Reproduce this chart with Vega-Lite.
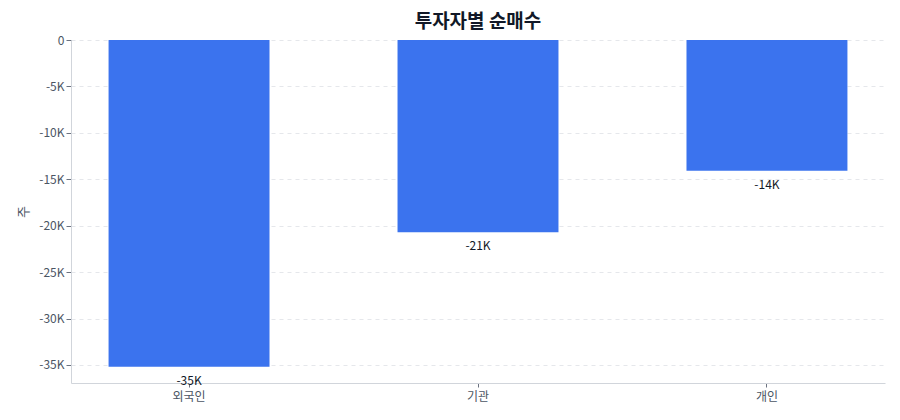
{
  "$schema": "https://vega.github.io/schema/vega-lite/v6.json",
  "width": 900,
  "height": 420,
  "autosize": {"type": "fit", "contains": "padding"},
  "padding": {"left": 17, "right": 15, "top": 13, "bottom": 18},
  "background": "white",
  "title": {
    "text": "투자자별 순매수",
    "font": "Noto Sans CJK KR",
    "fontSize": 19,
    "fontWeight": "bold",
    "color": "#111827",
    "offset": 2
  },
  "config": {
    "font": "Noto Sans CJK KR",
    "view": {"stroke": null}
  },
  "data": {
    "values": [
      {"investor": "외국인", "shares": -35180},
      {"investor": "기관", "shares": -20700},
      {"investor": "개인", "shares": -14090}
    ]
  },
  "transform": [
    {"calculate": "replace(replace(format(datum.shares, '.2~s'), 'k', 'K'), '−', '-')", "as": "label"}
  ],
  "encoding": {
    "x": {
      "field": "investor",
      "type": "nominal",
      "sort": null,
      "title": null,
      "scale": {"paddingInner": 0.443, "paddingOuter": 0.13},
      "axis": {
        "labelAngle": 0,
        "labelFontSize": 12,
        "labelColor": "#4b5563",
        "domainColor": "#d1d5db",
        "tickColor": "#6b7280",
        "tickSize": 4,
        "labelPadding": 4
      }
    },
    "y": {
      "field": "shares",
      "type": "quantitative",
      "title": "주",
      "scale": {"domain": [-36940, 0], "nice": false},
      "axis": {
        "values": [0, -5000, -10000, -15000, -20000, -25000, -30000, -35000],
        "labelExpr": "replace(replace(format(datum.value, '~s'), 'k', 'K'), '−', '-')",
        "labelFontSize": 12,
        "labelColor": "#4b5563",
        "titleFontSize": 13,
        "titleFontWeight": "normal",
        "titleColor": "#4b5563",
        "domainColor": "#d1d5db",
        "tickColor": "#6b7280",
        "tickSize": 5,
        "gridColor": "#e5e7eb",
        "gridDash": [4, 4],
        "titlePadding": 8
      }
    }
  },
  "layer": [
    {
      "mark": {"type": "bar", "color": "#3b73ee"}
    },
    {
      "mark": {
        "type": "text",
        "baseline": "top",
        "dy": 9,
        "fontSize": 12,
        "color": "#111827"
      },
      "encoding": {
        "text": {"field": "label"}
      }
    }
  ]
}
